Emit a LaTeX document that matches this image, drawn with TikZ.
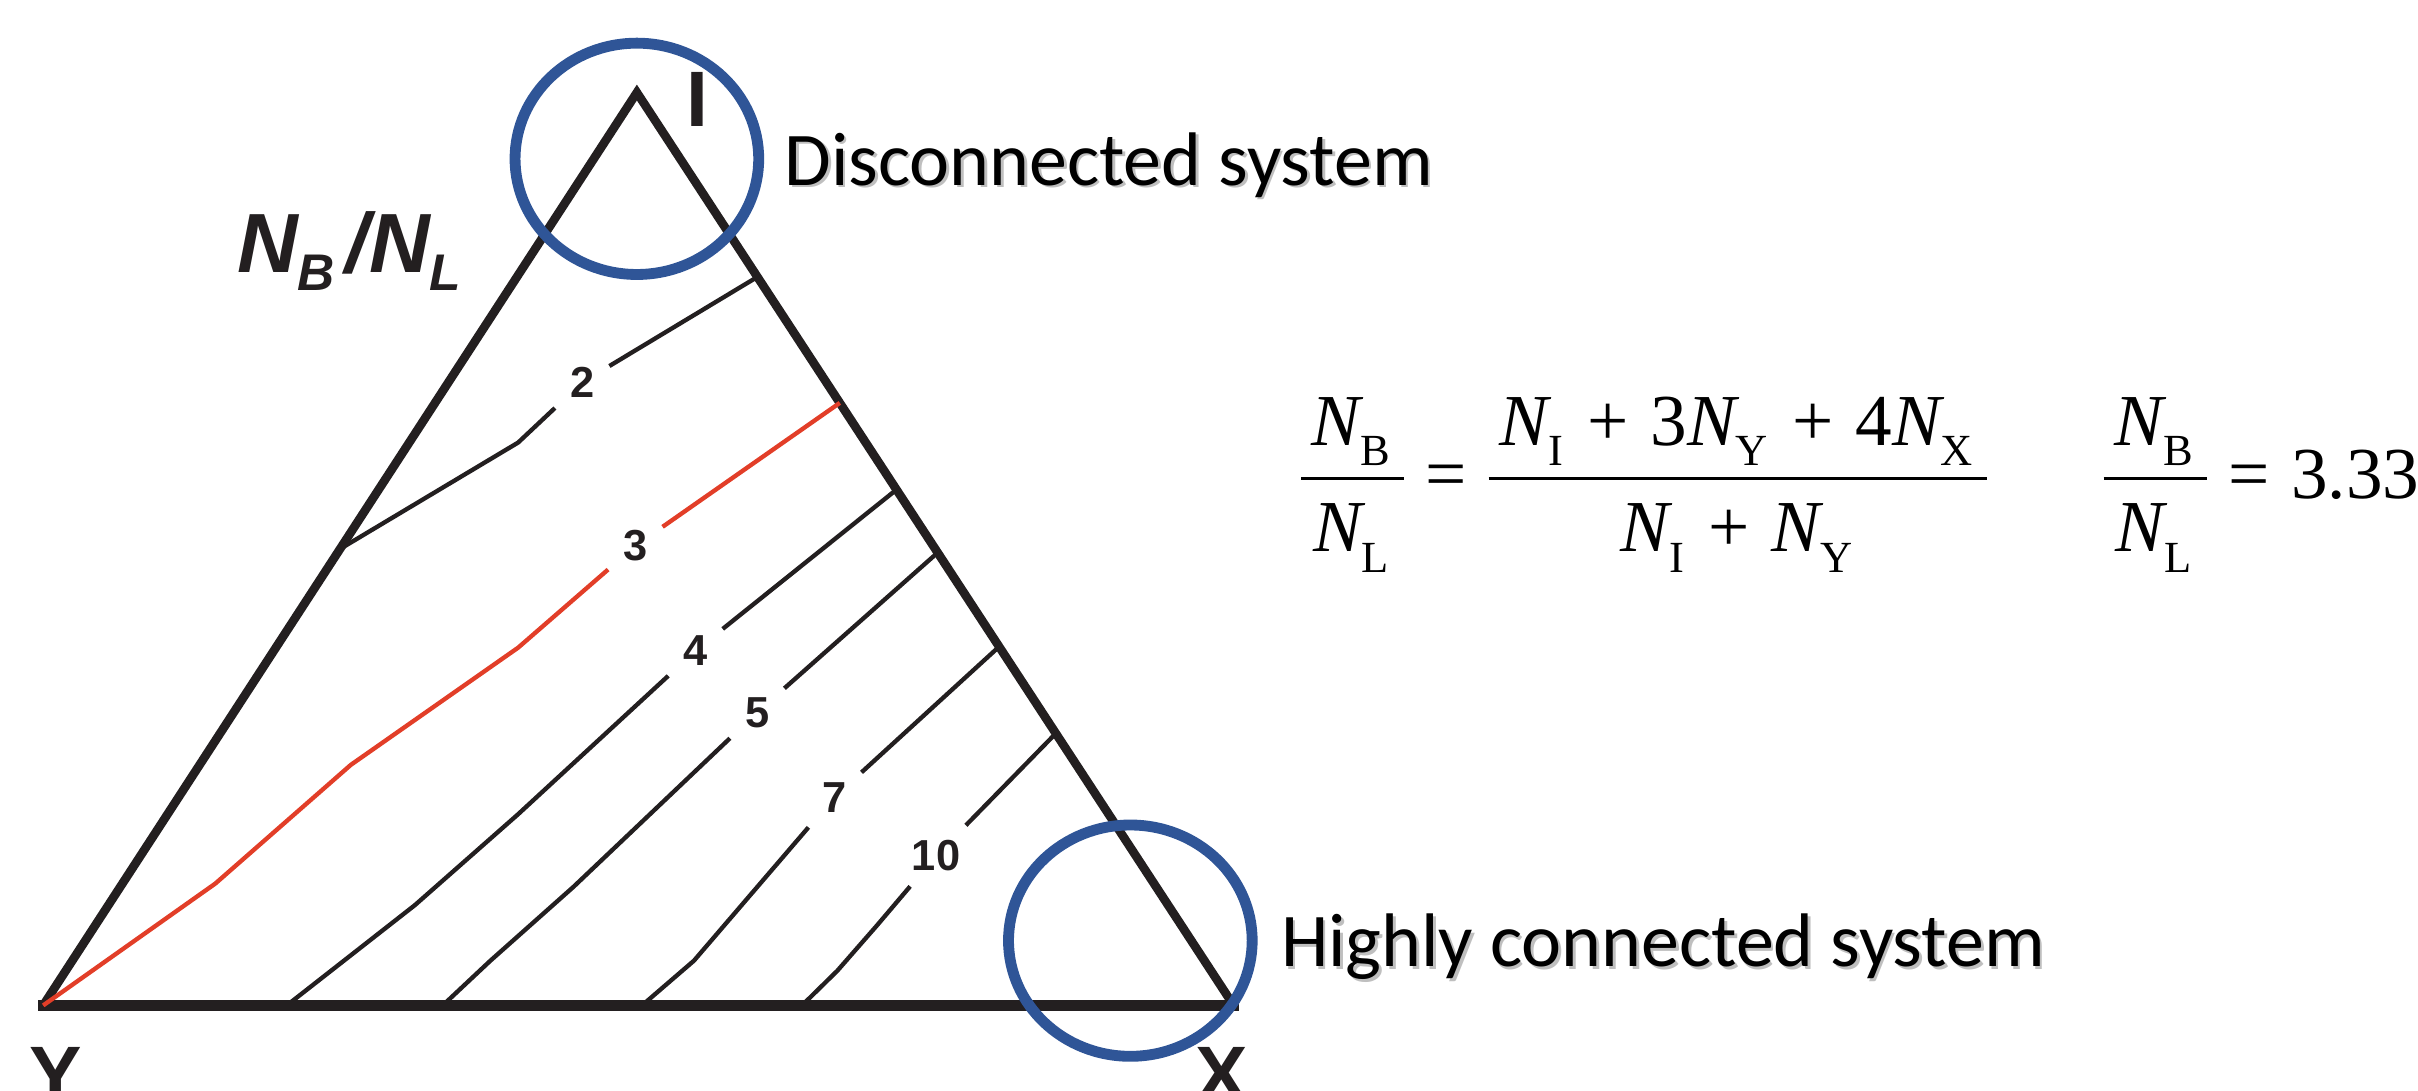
\documentclass[tikz,border=0pt]{standalone}
\usepackage{fontspec}
\setmainfont{Liberation Serif}
\newfontfamily\labelfont{Liberation Sans}
\newfontfamily\notefont{Carlito}
\usetikzlibrary{calc}
\definecolor{ringblue}{RGB}{47,85,151}
\definecolor{inkblack}{RGB}{35,31,32}
\definecolor{redline}{RGB}{226,62,40}
\newcommand{\Nsb}[1]{\mbox{\itshape N}_{\raisebox{-1.6pt}{\fontsize{8.2}{9}\selectfont\upshape #1}}}
\newcommand{\eqplus}{\mskip5mu\mbox{+}\mskip5mu}
\newcommand{\eqsign}{\mathrel{\mbox{=}}}
\newcommand{\padded}[1]{\mkern2.5mu#1\mkern2.5mu}
\newcommand{\shadowed}[1]{\rlap{\hspace{0.5pt}\raisebox{-0.5pt}{\color{black!25}#1}}#1}

\begin{document}
\begin{tikzpicture}[x=0.01cm,y=-0.01cm,
  side/.style={line width=1.6pt,draw=inkblack,line join=miter},
  iso/.style={line width=0.8pt,draw=inkblack,line join=round},
  num/.style={font=\labelfont\bfseries\fontsize{8}{9}\selectfont,inner sep=2.6pt,text=inkblack},
  corner/.style={font=\labelfont\bfseries\fontsize{14.5}{16}\selectfont,inner sep=0pt,text=inkblack,anchor=base},
  ring/.style={draw=ringblue,line width=2pt},
  note/.style={font=\notefont\fontsize{14}{17}\selectfont,inner sep=0pt,anchor=base west},
  eq/.style={font={\rmfamily\fontsize{13.5}{16}\selectfont\nulldelimiterspace 0pt},inner sep=0pt,anchor=base west}]
  \useasboundingbox (0,0) rectangle (1568,707);
  % corners of the triangle
  \coordinate (I) at (413,60);
  \coordinate (Y) at (28,652);
  \coordinate (X) at (800,652);
  \draw[side] (Y) -- (I) -- (X);
  \draw[side,line width=1.9pt,line cap=rect] (Y) -- (X);
  \node[corner] (lI) at (452,82) {I};
  \node[corner] (lY) at (36,714) {Y};
  \node[corner] (lX) at (792,714) {X};
  \node[anchor=base west,inner sep=0pt,text=inkblack,font=\labelfont\bfseries\itshape\fontsize{15.5}{18}\selectfont] (ratio) at (153,177)
    {N\raisebox{-3.3pt}{\fontsize{9.5}{10}\selectfont B}\hspace{2pt}/N\raisebox{-3.3pt}{\fontsize{9.5}{10}\selectfont L}};
  % contour labels
  \node[num] (n2) at (377.5,248) {2};
  \node[num] (n3) at (412,354) {3};
  \node[num] (n4) at (451,422) {4};
  \node[num] (n5) at (491,462) {5};
  \node[num] (n7) at (541,517) {7};
  \node[num] (n10) at (607,555) {10};
  % contours
  \draw[iso] ($(I)!0.5!(Y)$) -- (336,287) -- (n2) -- ($(I)!0.202!(X)$);
  \draw[iso,draw=redline] (Y) -- (139.6,573) -- (227.5,496) -- (336,420) -- (n3) -- ($(I)!0.340!(X)$);
  \draw[iso] ($(Y)!0.2046!(X)$) -- (269,587) -- (336,528) -- (n4) -- ($(I)!0.435!(X)$);
  \draw[iso] ($(Y)!0.3356!(X)$) -- (318,623) -- (372,575) -- (n5) -- ($(I)!0.504!(X)$);
  \draw[iso] ($(Y)!0.503!(X)$) -- (450,623) -- (n7) -- ($(I)!0.607!(X)$);
  \draw[iso] ($(Y)!0.6374!(X)$) -- (543,629.5) -- (568.8,600) -- (n10) -- ($(I)!0.702!(X)$);
  % rings
  \draw[ring] (413,103) ellipse [x radius=79, y radius=75];
  \draw[ring] (733,610) ellipse [x radius=79, y radius=75];
  \node[note] (dis) at (508,120) {\shadowed{Disconnected system}};
  \node[note] (hig) at (830,627) {\shadowed{Highly connected system}};
  % equations
  \node[eq] (eqdef) at (843,323)
    {$\displaystyle\frac{\padded{\Nsb{B}}}{\padded{\Nsb{L}}}\eqsign
      \frac{\padded{\Nsb{I}\eqplus\mbox{3}\Nsb{Y}\eqplus\mbox{4}\Nsb{X}}}{\Nsb{I}\eqplus\Nsb{Y}}$};
  \node[eq] (eqval) at (1363.5,323) {$\displaystyle\frac{\padded{\Nsb{B}}}{\padded{\Nsb{L}}}\eqsign\mbox{3.33}$};
\end{tikzpicture}
\end{document}
